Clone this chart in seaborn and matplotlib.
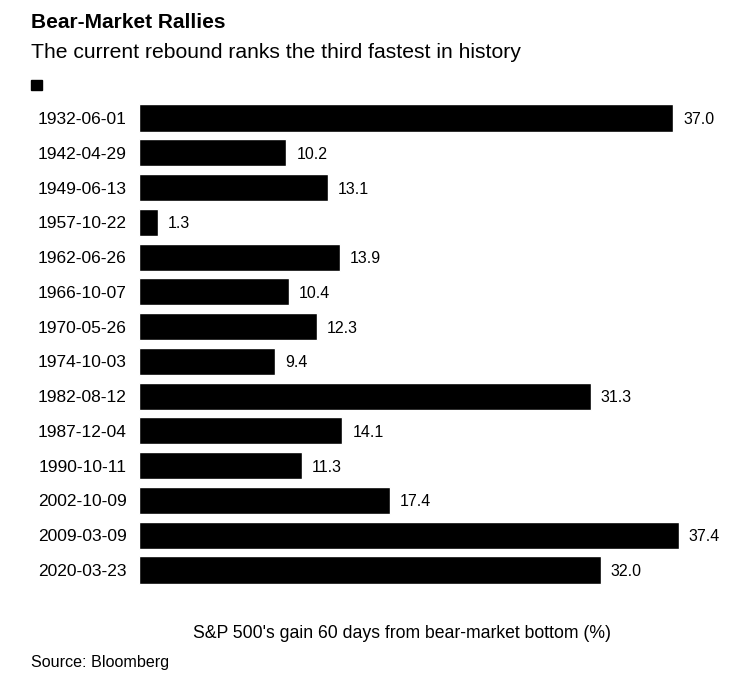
import pandas as pd
import matplotlib as mpl
from matplotlib import pyplot as plt
import seaborn as sns

dates = ["1932-06-01", "1942-04-29", "1949-06-13", "1957-10-22", "1962-06-26",
         "1966-10-07", "1970-05-26", "1974-10-03", "1982-08-12", "1987-12-04",
         "1990-10-11", "2002-10-09", "2009-03-09", "2020-03-23"]
gains = [37.0, 10.2, 13.1, 1.3, 13.9, 10.4, 12.3, 9.4, 31.3, 14.1, 11.3, 17.4, 37.4, 32.0]

rallies = pd.DataFrame({"bottom": dates, "gain": gains})

sns.set_theme(style="white")
plt.rcParams['font.family'] = ['Liberation Sans', 'DejaVu Sans']
plt.rcParams['text.color'] = 'black'

fig = plt.figure(figsize=(7.48, 6.73), dpi=100)
ax = fig.add_axes([139 / 748, 1 - 587.4 / 673, (720 - 139) / 748, (587.4 - 100.6) / 673])

sns.barplot(data=rallies, x="gain", y="bottom", order=dates, color="black",
            saturation=1, width=0.78, orient="h", ax=ax)

for i, v in enumerate(gains):
    ax.text(v + 0.7, i, f"{v:.1f}", va="center_baseline", ha="left", fontsize=11.5, color="black")

ax.set_xlim(0, (720 - 139) / ((673 - 139) / 37.0))
ax.set_ylim(13.5, -0.5)
ax.set_xlabel("")
ax.set_ylabel("")
ax.set_xticks([])
ax.tick_params(axis="y", length=0, labelsize=12.5, pad=9, colors="black")
for s in ax.spines.values():
    s.set_visible(False)

fig.text(31 / 748, 1 - 22 / 673, "Bear-Market Rallies", fontsize=15, fontweight="bold",
         va="center", ha="left")
fig.text(31 / 748, 1 - 53 / 673, "The current rebound ranks the third fastest in history",
         fontsize=15.2, va="center", ha="left")
fig.patches.append(mpl.patches.Rectangle((31 / 748, 1 - 90 / 673), 11 / 748, 10 / 673,
                                         transform=fig.transFigure, color="black"))
fig.text(402 / 748, 1 - 634 / 673, "S&P 500's gain 60 days from bear-market bottom (%)",
         fontsize=12.7, va="center", ha="center")
fig.text(31 / 748, 1 - 662 / 673, "Source: Bloomberg", fontsize=11.6, va="center", ha="left")

fig.savefig("out.png", dpi=100)
